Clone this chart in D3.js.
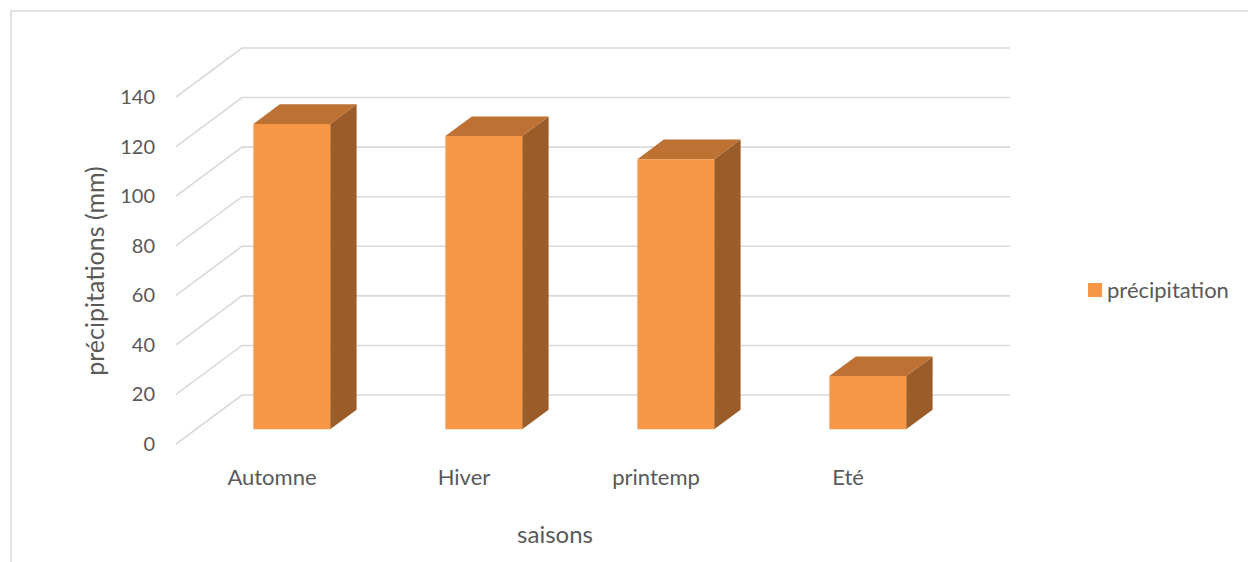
<!DOCTYPE html>
<html><head><meta charset="utf-8">
<script src="https://cdn.jsdelivr.net/npm/d3@7"></script>
<style>body{margin:0;background:#fff}svg{display:block}text{font-family:Lato,"Open Sans",sans-serif;fill:#595959}</style>
</head><body><svg id="c" width="1248" height="562"></svg>
<script>
const categories = ["Automne","Hiver","printemp","Eté"];
const values = [123.2,118.3,109,21.5];
const seriesName = "précipitation";
const yTicks = [0,20,40,60,80,100,120,140];
const yTitle = "précipitations (mm)";
const xTitle = "saisons";

const svg = d3.select("#c");
// chart border
svg.append("rect").attr("x",11).attr("y",11).attr("width",1260).attr("height",600)
  .attr("fill","none").attr("stroke","#D9D9D9").attr("stroke-width",1.5);

const frontLeft = 176, frontRight = 944;
const depthDx = 66, depthDy = -49;
const x = d3.scaleBand().domain(categories).range([frontLeft, frontRight]);
const y = d3.scaleLinear().domain([0,140]).range([444,97]);
const proj = (px, v, d) => [px + d*depthDx, y(v) + d*depthDy];

// gridlines
const g = svg.append("g");
yTicks.forEach(t=>{
  const a = proj(frontLeft,t,0), b = proj(frontLeft,t,1), c = proj(frontRight,t,1);
  g.append("polyline").attr("points",[a,b,c].map(p=>p.join(",")).join(" "))
   .attr("fill","none").attr("stroke","#D9D9D9").attr("stroke-width",1.6);
});
// tick labels
svg.append("g").selectAll("text").data(yTicks).join("text")
  .attr("x",155).attr("y",d=>y(d)).attr("dy","0.35em").attr("text-anchor","end")
  .attr("font-size",20).text(d=>d);

// bars
const bw = 0.4, d0 = 0.3, d1 = 0.7;
const bars = svg.append("g");
categories.forEach((cat,i)=>{
  const cx = x(cat) + x.bandwidth()/2;
  const xl = cx - bw*x.bandwidth()/2, xr = cx + bw*x.bandwidth()/2;
  const v = values[i];
  const P = (px,val,d)=>proj(px,val,d).join(",");
  bars.append("polygon").attr("points",[P(xr,0,d0),P(xr,0,d1),P(xr,v,d1),P(xr,v,d0)].join(" "))
    .attr("fill","#9A5D2A");
  bars.append("polygon").attr("points",[P(xl,v,d0),P(xr,v,d0),P(xr,v,d1),P(xl,v,d1)].join(" "))
    .attr("fill","#BD7133");
  bars.append("polygon").attr("points",[P(xl,0,d0),P(xr,0,d0),P(xr,v,d0),P(xl,v,d0)].join(" "))
    .attr("fill","#F79646");
});

// category labels
svg.append("g").selectAll("text").data(categories).join("text")
  .attr("x",d=>x(d)+x.bandwidth()/2).attr("y",477).attr("dy","0.35em")
  .attr("text-anchor","middle").attr("font-size",22).text(d=>d);

// axis titles
svg.append("text").attr("transform","translate(95,271) rotate(-90)")
  .attr("text-anchor","middle").attr("dy","0.35em").attr("font-size",25).text(yTitle);
svg.append("text").attr("x",555).attr("y",535).attr("dy","0.35em")
  .attr("text-anchor","middle").attr("font-size",24).text(xTitle);

// legend
svg.append("rect").attr("x",1088).attr("y",283).attr("width",14).attr("height",14).attr("fill","#F79646");
svg.append("text").attr("x",1107).attr("y",290).attr("dy","0.35em").attr("font-size",22).text(seriesName);
</script></body></html>
